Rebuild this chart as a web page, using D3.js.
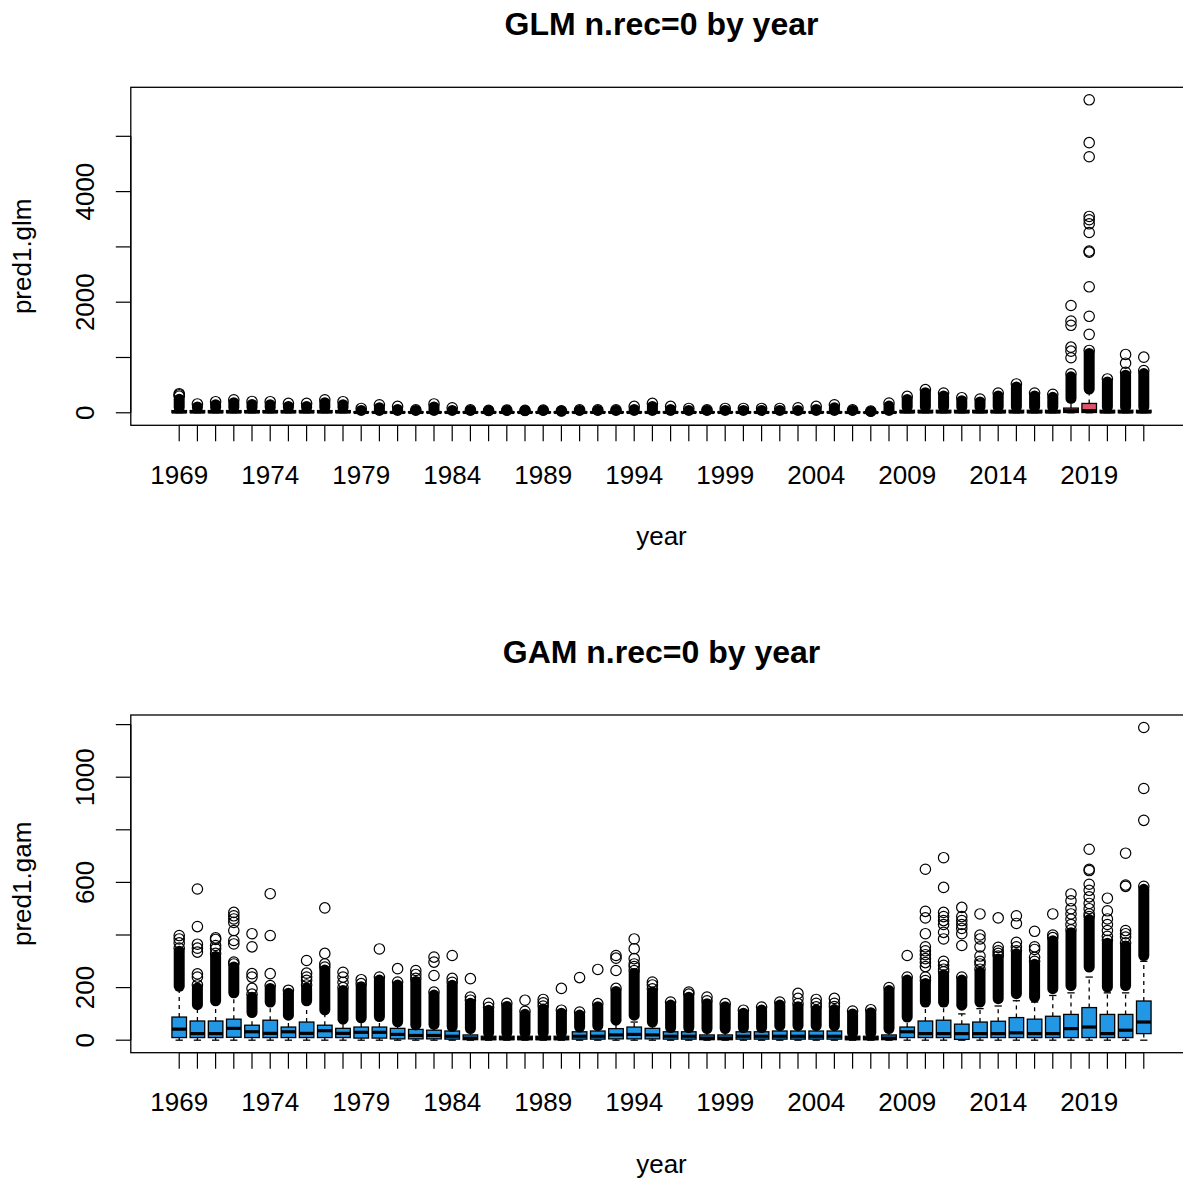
<!DOCTYPE html>
<html>
<head>
<script src="https://cdn.jsdelivr.net/npm/d3@7"></script>
<style>
  body { margin: 0; background: #fff; }
  text { font-family: "Liberation Sans", Arial, sans-serif; fill: #000; }
</style>
</head>
<body>
<svg width="1183" height="1180"></svg>
<script>
var years = [1969,1970,1971,1972,1973,1974,1975,1976,1977,1978,
             1979,1980,1981,1982,1983,1984,1985,1986,1987,1988,
             1989,1990,1991,1992,1993,1994,1995,1996,1997,1998,
             1999,2000,2001,2002,2003,2004,2005,2006,2007,2008,
             2009,2010,2011,2012,2013,2014,2015,2016,2017,2018,
             2019,2020,2021,2022];
var yearLabels = [1969,1974,1979,1984,1989,1994,1999,2004,2009,2014,2019];

// GLM panel
var glmQ1  = [3,3,3,3,3,3,3,3,3,3, 1,1,1,1,1,1,1,1,1,1, 1,1,1,1,1,1,1,1,1,1, 1,1,1,1,1,1,1,1,1,1, 3,3,3,3,3,3,3,3,3,5, 5,3,3,3];
var glmMed = [15,15,15,15,15,15,15,15,15,15, 6,6,6,6,6,6,6,6,6,6, 6,6,6,6,6,6,6,6,6,6, 6,6,6,6,6,6,6,6,4,6, 15,15,15,15,15,15,15,15,15,36, 40,15,15,15];
var glmQ3  = [40,40,40,40,40,40,40,40,40,40, 18,18,18,18,18,18,18,18,18,18, 18,15,18,18,18,18,18,18,18,18, 18,18,18,18,18,18,18,18,10,18, 45,45,45,45,45,45,45,45,45,85, 169,45,45,45];
var glmHi  = [90,90,90,90,90,90,90,90,90,90, 40,40,40,40,40,40,40,35,40,35, 40,28,40,40,40,40,40,40,40,40, 40,40,40,40,40,40,40,40,22,40, 100,100,100,100,100,100,100,100,100,200, 415,100,100,100];
var glmDenseLo = [95,95,95,95,95,95,95,95,95,95, 42,42,42,42,42,42,42,38,42,38, 42,30,42,42,42,42,42,42,42,42, 42,42,42,42,42,42,42,42,24,42, 105,105,105,105,105,105,105,105,105,260, 430,105,105,105];
var glmDenseHi = [300,160,200,236,205,200,170,170,236,200, 78,145,115,55,160,90,55,45,50,45, 50,35,55,55,55,115,170,115,78,55, 78,78,78,78,90,115,145,55,30,175, 296,418,358,273,249,358,521,358,333,704, 1127,612,733,764];
var glmOut = {
  1969: [345, 325],
  2018: [1940, 1660, 1582, 1187, 1115, 995],
  2019: [5660, 4885, 4630, 3551, 3491, 3418, 3260, 2925, 2905, 2278, 1745, 1418],
  2021: [1055, 897],
  2022: [1006]
};
var glmTicks = [0,1000,2000,3000,4000,5000];
var glmTickLabels = [0,2000,4000];

// GAM panel
var gamQ1  = [10,10,10,11,10,10,10,10,10,10, 8,8,5,5,5,4,2,2,2,2, 2,2,4,4,5,5,5,4,4,2, 2,4,4,4,4,4,4,2,2,2, 10,10,10,3,10,10,10,10,10,10, 10,10,10,25];
var gamMed = [42,25,25,45,32,26,32,26,36,26, 30,30,22,18,18,15,8,6,6,6, 6,6,15,15,20,22,20,15,15,8, 8,15,15,15,15,15,15,6,6,8, 32,25,25,25,25,25,28,25,25,44, 50,25,38,69];
var gamQ3  = [88,73,73,80,57,76,50,69,57,45, 50,50,45,41,38,35,20,15,15,15, 15,15,32,35,44,50,45,32,32,20, 20,32,32,35,35,35,35,15,15,20, 50,73,76,61,69,72,86,80,91,98, 124,98,98,149];
var gamHi  = [200,125,140,170,100,135,90,140,110,75, 80,85,65,55,55,50,40,25,25,25, 25,25,45,50,70,69,65,44,44,40, 40,44,44,50,50,50,50,25,25,40, 75,130,130,100,120,130,150,145,170,180, 240,180,180,300];
var gamDenseLo = [205,135,150,180,105,145,95,150,115,80, 85,90,70,58,60,52,44,28,28,28, 28,28,50,55,76,95,69,48,48,44, 44,48,48,55,55,55,55,28,28,44, 88,145,145,133,145,158,177,164,196,208, 278,202,208,322];
var gamDenseHi = [350,210,330,290,175,208,190,210,278,200, 215,240,221,235,183,220,152,125,140,110, 130,114,107,139,197,265,195,145,175,150, 139,114,126,145,139,127,128,111,116,200, 240,227,260,240,270,320,340,300,390,420, 470,380,370,585];
var gamOut = {
  1969: [398, 385, 370],
  1970: [240, 252, 335, 350, 365, 432, 575],
  1971: [348, 360, 383, 389],
  1972: [297, 366, 379, 417, 448, 461, 473, 486],
  1973: [197, 240, 253, 355, 405],
  1974: [253, 398, 557],
  1976: [228, 240, 255, 303],
  1977: [290, 330, 503],
  1978: [220, 240, 258],
  1979: [230],
  1980: [347],
  1981: [272],
  1982: [250, 265],
  1983: [246, 297, 316],
  1984: [235, 322],
  1985: [164, 234],
  1986: [140],
  1988: [152],
  1989: [142, 155],
  1990: [197],
  1991: [238],
  1992: [269],
  1993: [265, 312, 322],
  1994: [280, 290, 310, 348, 385],
  1995: [210, 221],
  1997: [183],
  1998: [164],
  2003: [159, 178],
  2004: [140, 155],
  2005: [140, 159],
  2009: [322],
  2010: [240, 280, 295, 310, 325, 340, 355, 405, 465, 490, 650],
  2011: [270, 285, 300, 385, 410, 440, 455, 470, 486, 581, 694],
  2012: [360, 405, 425, 440, 455, 470, 505],
  2013: [290, 300, 320, 355, 385, 400, 480],
  2014: [330, 340, 353, 465],
  2015: [355, 372, 444, 473],
  2016: [315, 345, 355, 414],
  2017: [400, 480],
  2018: [440, 460, 480, 500, 530, 556],
  2019: [480, 500, 520, 545, 570, 593, 645, 650, 726],
  2020: [395, 417, 440, 461, 492, 540],
  2021: [392, 405, 417, 585, 590, 711],
  2022: [836, 957, 1189]
};
var gamTicks = [0,200,400,600,800,1000,1200];
var gamTickLabels = [0,200,600,1000];

var svg = d3.select("svg");

var x = d3.scaleLinear().domain([-1.66, 56.66]).range([130.8, 1192.2]);
var boxW = x(0.8) - x(0);
var stapleW = x(0.4) - x(0);
var r = 5.2;

function drawPanel(o) {
  var g = svg.append("g");
  var allMax = d3.max(years, function(yr, i) {
    return d3.max([o.denseHi[i]].concat(o.out[yr] || []));
  });
  var ext = allMax * 0.04;
  var y = d3.scaleLinear().domain([-ext, allMax + ext]).range([o.bottom, o.top]);

  // boxes
  years.forEach(function(yr, i) {
    var cx = x(i + 1);
    var b = g.append("g");
    // whiskers
    b.append("line").attr("x1", cx).attr("x2", cx)
      .attr("y1", y(o.q3[i])).attr("y2", y(o.hi[i]))
      .attr("stroke", "#000").attr("stroke-width", 1.3).attr("stroke-dasharray", "4,4");
    b.append("line").attr("x1", cx).attr("x2", cx)
      .attr("y1", y(o.q1[i])).attr("y2", y(0))
      .attr("stroke", "#000").attr("stroke-width", 1.3).attr("stroke-dasharray", "4,4");
    // staples
    [0, o.hi[i]].forEach(function(v) {
      b.append("line").attr("x1", cx - stapleW / 2).attr("x2", cx + stapleW / 2)
        .attr("y1", y(v)).attr("y2", y(v))
        .attr("stroke", "#000").attr("stroke-width", 1.3);
    });
    b.append("rect")
      .attr("x", cx - boxW / 2).attr("width", boxW)
      .attr("y", y(o.q3[i])).attr("height", y(o.q1[i]) - y(o.q3[i]))
      .attr("fill", o.fill).attr("stroke", "#000").attr("stroke-width", 1.3);
    b.append("line").attr("x1", cx - boxW / 2).attr("x2", cx + boxW / 2)
      .attr("y1", y(o.med[i])).attr("y2", y(o.med[i]))
      .attr("stroke", "#000").attr("stroke-width", 3.2);

    // dense run of outliers, drawn as a column of overlapping circles
    if (o.denseHi[i] > o.denseLo[i]) {
      var yTop = Math.min(y(o.denseHi[i]) + 3, y(o.denseLo[i]));
      b.append("line").attr("x1", cx).attr("x2", cx)
        .attr("y1", y(o.denseLo[i])).attr("y2", yTop)
        .attr("stroke", "#000").attr("stroke-width", 11).attr("stroke-linecap", "round");
    }
    var pts = [o.denseHi[i]].concat(o.out[yr] || []);
    b.selectAll("circle").data(pts).enter().append("circle")
      .attr("cx", cx).attr("cy", function(d) { return y(d); })
      .attr("r", r).attr("fill", "none").attr("stroke", "#000").attr("stroke-width", 1.2);
  });

  // frame
  g.append("rect").attr("x", x.range()[0]).attr("y", o.top)
    .attr("width", x.range()[1] - x.range()[0]).attr("height", o.bottom - o.top)
    .attr("fill", "none").attr("stroke", "#000").attr("stroke-width", 1.3);

  // x axis
  var xa = g.append("g").attr("transform", "translate(0," + o.bottom + ")");
  xa.append("line").attr("x1", x(1)).attr("x2", x(years.length))
    .attr("stroke", "#000").attr("stroke-width", 1.2);
  xa.selectAll(".xt").data(years).enter().append("line")
    .attr("x1", function(d, i) { return x(i + 1); })
    .attr("x2", function(d, i) { return x(i + 1); })
    .attr("y1", 0).attr("y2", 16).attr("stroke", "#000").attr("stroke-width", 1.2);
  xa.selectAll(".xl").data(yearLabels).enter().append("text")
    .attr("x", function(d) { return x(years.indexOf(d) + 1); })
    .attr("y", 58.5).attr("text-anchor", "middle").style("font-size", "26px")
    .text(function(d) { return d; });

  // y axis
  var ya = g.append("g").attr("transform", "translate(" + x.range()[0] + ",0)");
  ya.append("line").attr("y1", y(o.ticks[0])).attr("y2", y(o.ticks[o.ticks.length - 1]))
    .attr("stroke", "#000").attr("stroke-width", 1.2);
  ya.selectAll(".yt").data(o.ticks).enter().append("line")
    .attr("x1", 0).attr("x2", -15)
    .attr("y1", function(d) { return y(d); }).attr("y2", function(d) { return y(d); })
    .attr("stroke", "#000").attr("stroke-width", 1.2);
  ya.selectAll(".yl").data(o.tickLabels).enter().append("text")
    .attr("transform", function(d) { return "translate(-36.5," + y(d) + ") rotate(-90)"; })
    .attr("text-anchor", "middle").style("font-size", "26px")
    .text(function(d) { return d; });

  var midX = (x.range()[0] + x.range()[1]) / 2;
  g.append("text").attr("x", midX).attr("y", o.top - 52)
    .attr("text-anchor", "middle").style("font-size", "32px").style("font-weight", "bold")
    .text(o.title);
  g.append("text").attr("x", midX).attr("y", o.bottom + 120)
    .attr("text-anchor", "middle").style("font-size", "26px").text("year");
  g.append("text")
    .attr("transform", "translate(31," + ((o.top + o.bottom) / 2) + ") rotate(-90)")
    .attr("text-anchor", "middle").style("font-size", "26px").text(o.ylab);
}

drawPanel({
  title: "GLM n.rec=0 by year", ylab: "pred1.glm", top: 87.3, bottom: 425.3,
  q1: glmQ1, med: glmMed, q3: glmQ3, hi: glmHi,
  denseLo: glmDenseLo, denseHi: glmDenseHi, out: glmOut,
  ticks: glmTicks, tickLabels: glmTickLabels, fill: "#DF536B"
});
drawPanel({
  title: "GAM n.rec=0 by year", ylab: "pred1.gam", top: 715, bottom: 1052.7,
  q1: gamQ1, med: gamMed, q3: gamQ3, hi: gamHi,
  denseLo: gamDenseLo, denseHi: gamDenseHi, out: gamOut,
  ticks: gamTicks, tickLabels: gamTickLabels, fill: "#2297E6"
});
</script>
</body>
</html>
